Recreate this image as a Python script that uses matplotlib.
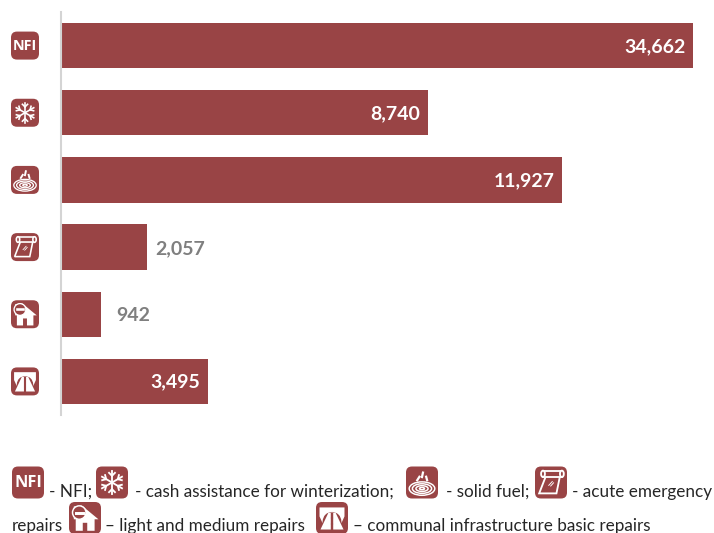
import matplotlib
matplotlib.use("Agg")
import matplotlib.pyplot as plt
import numpy as np
from matplotlib.patches import Circle, Ellipse, FancyBboxPatch, Polygon, Wedge

plt.rcParams["font.family"] = ["Lato", "DejaVu Sans"]

icons = ["nfi", "snow", "fuel", "roll", "house", "road"]
values = [34662, 8740, 11927, 2057, 942, 3495]
value_labels = ["34,662", "8,740", "11,927", "2,057", "942", "3,495"]
inside = [True, True, True, False, False, True]
# the first bar runs past the axis limit in the original, so it gets cut off
x_max = 15050

RED = "#994445"
W = 714
H = 533


def draw_icon(ov, kind, cx, cy, size):
    r = size / 2

    def P(pts):
        return [(cx + x * r, cy + y * r) for x, y in pts]

    ov.add_patch(FancyBboxPatch((cx - r + 4, cy - r + 4), size - 8, size - 8,
                                boxstyle="round,pad=4,rounding_size=6",
                                fc=RED, ec="none"))
    lw = size / 24
    if kind == "nfi":
        ov.text(cx, cy + 0.5, "NFI", color="white", fontweight="bold",
                fontsize=size * 0.37, ha="center", va="center",
                family=["Open Sans", "DejaVu Sans"])
    elif kind == "snow":
        for a in [90, 30, 150]:
            dx, dy = np.cos(np.radians(a)), np.sin(np.radians(a))
            ov.plot([cx - dx * r * .72, cx + dx * r * .72],
                    [cy - dy * r * .72, cy + dy * r * .72], color="white", lw=lw)
        for a in range(30, 390, 60):
            ca, sa = np.cos(np.radians(a)), np.sin(np.radians(a))
            tip = (cx + ca * r * .42, cy + sa * r * .42)
            for b in [a + 45, a - 45]:
                ov.plot([tip[0], tip[0] + np.cos(np.radians(b)) * r * .26],
                        [tip[1], tip[1] + np.sin(np.radians(b)) * r * .26],
                        color="white", lw=lw)
    elif kind == "fuel":
        for w, h in [(1.6, .84), (1.2, .6), (.76, .36), (.32, .14)]:
            ov.add_patch(Ellipse((cx, cy + .38 * r), w * r, h * r, fc="none",
                                 ec="white", lw=lw * .8))
        for x0, y0, x1, y1 in [(-.3, -.14, -.16, -.36), (0, -.34, .06, -.62),
                               (.32, -.14, .26, -.36)]:
            ov.plot([cx + x0 * r, cx + x1 * r], [cy + y0 * r, cy + y1 * r],
                    color="white", lw=lw * 1.2)
    elif kind == "roll":
        ov.add_patch(Polygon(P([(-.32, -.4), (.56, -.4), (.34, .68), (-.74, .68)]),
                             fc="none", ec="white", lw=lw))
        ov.add_patch(Polygon(P([(-.5, -.74), (.66, -.74), (.66, -.34), (-.5, -.34)]),
                             fc=RED, ec="white", lw=lw))
        ov.add_patch(Ellipse((cx + .68 * r, cy - .54 * r), .24 * r, .4 * r,
                             fc=RED, ec="white", lw=lw))
        ov.add_patch(Ellipse((cx - .5 * r, cy - .54 * r), .24 * r, .4 * r,
                             fc=RED, ec="white", lw=lw))
        ov.plot(*zip(*P([(-.14, .18), (.08, -.06)])), color="white", lw=lw * .5)
        ov.plot(*zip(*P([(-.02, .22), (.16, .02)])), color="white", lw=lw * .5)
    elif kind == "house":
        ov.add_patch(Polygon(P([(-.7, -.72), (-.2, -.78), (.84, .08), (.6, .08),
                                (.6, .8), (.14, .8), (.14, .3), (-.14, .3),
                                (-.14, .8), (-.58, .8), (-.58, .08), (-.7, .08)]),
                             fc="white", ec="none"))
        ov.add_patch(Circle((cx - .36 * r, cy - .34 * r), .42 * r, fc=RED, ec="white",
                            lw=lw * .8))
        ov.plot(*zip(*P([(-.58, -.34), (-.14, -.34)])), color="white", lw=lw * 1.6)
    elif kind == "road":
        ov.add_patch(Polygon(P([(-.78, -.66), (.78, -.66), (.78, -.1), (.6, .3),
                                (-.6, .3), (-.78, -.1)]),
                             fc="white", ec="none"))
        ov.add_patch(Wedge((cx, cy + .2 * r), .58 * r, 180, 360, fc=RED, ec="none"))
        ov.add_patch(Polygon(P([(-.58, .18), (.58, .18), (.6, .32), (-.6, .32)]),
                             fc=RED, ec="none"))
        ov.add_patch(Polygon(P([(-.22, -.34), (.22, -.34), (.72, .72), (-.72, .72)]),
                             fc="white", ec="none"))
        for y0, y1 in [(-.26, -.06), (.08, .3), (.46, .72)]:
            ov.plot(*zip(*P([(0, y0), (0, y1)])), color=RED, lw=lw * 1.3)


fig = plt.figure(figsize=(W / 100, H / 100), dpi=100)

# axes placed so the bars land on the same pixels as the original
ax = fig.add_axes([61 / W, 1 - 415 / H, 632 / W, 403 / H])
y = np.arange(len(values))
ax.barh(y, values, height=0.675, color=RED)
ax.set_xlim(0, x_max)
ax.set_ylim(5.5, -0.5)
ax.set_xticks([])
ax.set_yticks([])
for s in ["top", "right", "bottom"]:
    ax.spines[s].set_visible(False)
ax.spines["left"].set_color("#d4d4d4")
ax.spines["left"].set_linewidth(1.5)

for i, (v, lab) in enumerate(zip(values, value_labels)):
    if inside[i]:
        ax.annotate(lab, (min(v, x_max), i), xytext=(-5.5, -0.5),
                    textcoords="offset points", ha="right", va="center",
                    color="white", fontweight="bold", fontsize=14)
    else:
        ax.annotate(lab, (v, i), xytext=(6 if v > 1000 else 11, -1),
                    textcoords="offset points", ha="left", va="center",
                    color="#7f7f7f", fontweight="bold", fontsize=14)

# overlay in pixel coordinates for the icons and the key under the chart
ov = fig.add_axes([0, 0, 1, 1])
ov.set_xlim(0, W)
ov.set_ylim(H, 0)
ov.axis("off")
ov.patch.set_alpha(0)

for i, kind in enumerate(icons):
    ypix = 12 + (i + 0.5) * 403 / 6
    draw_icon(ov, kind, 25, ypix, 28)

key_icons = [("nfi", 28, 482.5), ("snow", 112, 482.5), ("fuel", 422, 482.5),
             ("roll", 551, 482.5), ("house", 85, 518), ("road", 332, 518)]
for kind, cx, cy in key_icons:
    draw_icon(ov, kind, cx, cy, 32)

key_text = [(49, 497, "- NFI;"), (135, 497, "- cash assistance for winterization;"),
            (446, 497, "- solid fuel;"), (572, 497, "- acute emergency"),
            (12, 531, "repairs"), (105, 531, "– light and medium repairs"),
            (353, 531, "– communal infrastructure basic repairs")]
for x, yb, t in key_text:
    ov.text(x, yb, t, fontsize=12.35, color="#262626", ha="left", va="baseline")

fig.savefig("out.png", dpi=100)
